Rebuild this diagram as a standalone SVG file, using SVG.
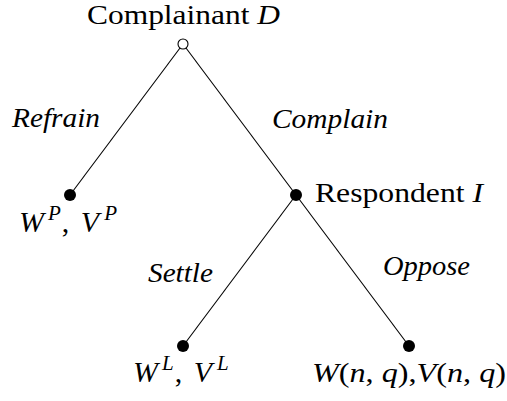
<svg xmlns="http://www.w3.org/2000/svg" width="507" height="401" viewBox="0 0 507 401" font-family="Liberation Serif, DejaVu Serif, Times New Roman, Times, serif">
<style>
text{font-size:28px;fill:#000}
.it{font-style:italic}
.sup{font-style:italic;font-size:21px}
.math{font-size:30px}
.edge{stroke:#000;stroke-width:1.1;fill:none}
.dot{fill:#000}
.open{fill:#fff;stroke:#000;stroke-width:1.1}
</style>
<rect width="507" height="401" fill="#fff"/>
<g id="connectors">
<line class="edge" x1="183" y1="44" x2="70" y2="195"/>
<line class="edge" x1="183" y1="44" x2="296" y2="195"/>
<line class="edge" x1="296" y1="195" x2="183" y2="346"/>
<line class="edge" x1="296" y1="195" x2="409" y2="346"/>
</g>
<g id="edge-labels">
<text class="it" x="12" y="127" textLength="88" lengthAdjust="spacingAndGlyphs">Refrain</text>
<text class="it" x="272" y="128" textLength="116" lengthAdjust="spacingAndGlyphs">Complain</text>
<text class="it" x="148" y="282" textLength="65" lengthAdjust="spacingAndGlyphs">Settle</text>
<text class="it" x="383" y="275" textLength="87" lengthAdjust="spacingAndGlyphs">Oppose</text>
</g>
<g id="node-root">
<circle class="open" cx="183" cy="44" r="5"/>
<text x="87" y="24" textLength="193" lengthAdjust="spacingAndGlyphs">Complainant <tspan class="it">D</tspan></text>
</g>
<g id="node-refrain">
<circle class="dot" cx="70" cy="195" r="6"/>
<text class="math" x="19" y="232"><tspan class="it">W</tspan><tspan class="sup" dx="4" dy="-12">P</tspan><tspan dy="12" dx="1">, </tspan><tspan class="it" dx="4">V</tspan><tspan class="sup" dx="5" dy="-12">P</tspan></text>
</g>
<g id="node-respondent">
<circle class="dot" cx="296" cy="195" r="6"/>
<text x="315" y="202" textLength="168" lengthAdjust="spacingAndGlyphs">Respondent <tspan class="it">I</tspan></text>
</g>
<g id="node-settle">
<circle class="dot" cx="183" cy="346" r="6"/>
<text class="math" x="133" y="382"><tspan class="it">W</tspan><tspan class="sup" dx="4" dy="-12">L</tspan><tspan dy="12" dx="1">, </tspan><tspan class="it" dx="4">V</tspan><tspan class="sup" dx="5" dy="-12">L</tspan></text>
</g>
<g id="node-oppose">
<circle class="dot" cx="409" cy="346" r="6"/>
<text x="312" y="382" textLength="194" lengthAdjust="spacingAndGlyphs"><tspan class="it">W</tspan>(<tspan class="it">n</tspan>, <tspan class="it">q</tspan>),<tspan class="it">V</tspan>(<tspan class="it">n</tspan>, <tspan class="it">q</tspan>)</text>
</g>
</svg>
